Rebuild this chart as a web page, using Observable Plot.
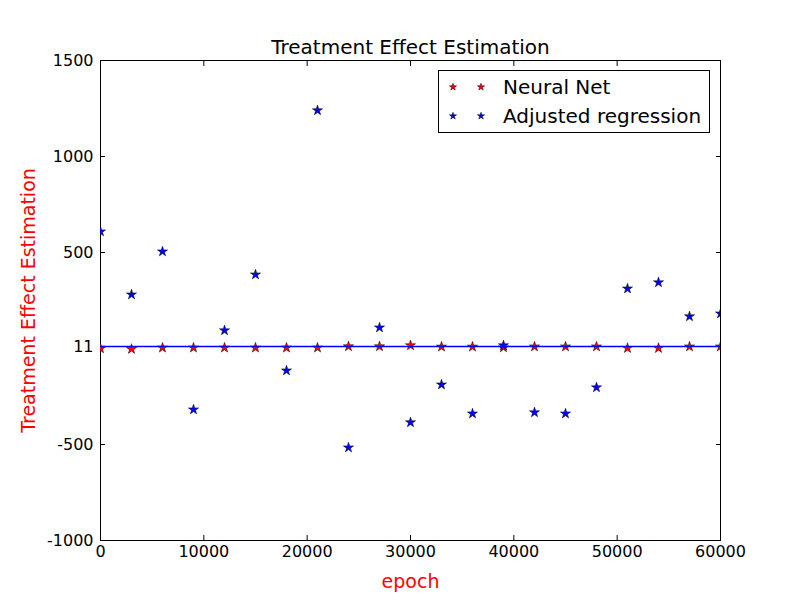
<!DOCTYPE html>
<html>
<head>
<meta charset="utf-8">
<script src="https://cdn.jsdelivr.net/npm/d3@7"></script>
<script src="https://cdn.jsdelivr.net/npm/@observablehq/plot@0.6"></script>
<style>
  html, body { margin: 0; padding: 0; background: white; }
  #wrap { position: relative; width: 800px; height: 600px; font-family: "DejaVu Sans", sans-serif; }
  #legend { position: absolute; left: 438px; top: 70px; width: 272px; height: 63px; border: 1px solid black; background: white; box-sizing: border-box; }
  .entry { position: absolute; left: 0; height: 24px; display: flex; align-items: center; font-size: 20px; color: black; white-space: nowrap; }
  .entry svg { display: block; }
</style>
</head>
<body>
<div id="wrap"></div>
<script>
const epochs = [0, 3000, 6000, 9000, 12000, 15000, 18000, 21000, 24000, 27000, 30000,
                33000, 36000, 39000, 42000, 45000, 48000, 51000, 54000, 57000, 60000];
const neuralNet = [0, -3, 4, 4, 4, 4, 4, 4, 11, 11, 16, 9, 9, 5, 10, 10, 10, 2, 2, 10, 10];
const adjustedRegression = [609, 281, 505, -318, 94, 385, -115, 1240, -516, 109, -385,
                            -188, -339, 16, -333, -339, -203, 312, 344, 167, 182];
const refValue = 11;
const yTicks = [-1000, -500, 11, 500, 1000, 1500];
const xTicks = [0, 10000, 20000, 30000, 40000, 50000, 60000];
const seriesNames = ["Neural Net", "Adjusted regression"];
const seriesColors = ["red", "blue"];

const nnData = epochs.map((e, i) => ({epoch: e, value: neuralNet[i]}));
const arData = epochs.map((e, i) => ({epoch: e, value: adjustedRegression[i]}));

const chart = Plot.plot({
  width: 800,
  height: 600,
  marginLeft: 100,
  marginRight: 80,
  marginTop: 60,
  marginBottom: 60,
  style: {fontFamily: "DejaVu Sans", fontSize: "16px", background: "white", color: "black"},
  x: {domain: [0, 60000]},
  y: {domain: [-1000, 1500]},
  marks: [
    Plot.frame({stroke: "black", strokeWidth: 1}),
    // inward tick marks on all four sides
    Plot.axisX({ticks: xTicks, anchor: "bottom", tickSize: -5, text: null, label: null}),
    Plot.axisX({ticks: xTicks, anchor: "top", tickSize: -5, text: null, label: null}),
    Plot.axisY({ticks: yTicks, anchor: "left", tickSize: -5, text: null, label: null}),
    Plot.axisY({ticks: yTicks, anchor: "right", tickSize: -5, text: null, label: null}),
    // tick labels
    Plot.axisX({ticks: xTicks, anchor: "bottom", tickSize: 0, tickPadding: 5, tickFormat: d => String(d), label: null, fontSize: 16}),
    Plot.axisY({ticks: yTicks, anchor: "left", tickSize: 0, tickPadding: 7, tickFormat: d => String(d), label: null, fontSize: 16}),
    Plot.dot(nnData, {x: "epoch", y: "value", symbol: "star", r: 3.2, fill: seriesColors[0], stroke: "black", strokeWidth: 0.5, clip: true}),
    Plot.dot(arData, {x: "epoch", y: "value", symbol: "star", r: 3.2, fill: seriesColors[1], stroke: "black", strokeWidth: 0.5, clip: true}),
    Plot.ruleY([refValue], {stroke: "blue", strokeWidth: 1.5}),
    Plot.text(["Treatment Effect Estimation"], {frameAnchor: "top", dy: -7, lineAnchor: "bottom", fontSize: 20, fill: "black"}),
    Plot.text(["epoch"], {frameAnchor: "bottom", dy: 47, lineAnchor: "bottom", fontSize: 19, fill: "red"}),
    Plot.text(["Treatment Effect Estimation"], {frameAnchor: "left", dx: -72, rotate: -90, textAnchor: "middle", fontSize: 19, fill: "red"})
  ]
});

const wrap = document.getElementById("wrap");
wrap.appendChild(chart);

// legend
const legend = document.createElement("div");
legend.id = "legend";
const starPath = d3.symbol(d3.symbolStar, 16)();
seriesNames.forEach((name, i) => {
  const entry = document.createElement("div");
  entry.className = "entry";
  entry.style.top = (i === 0 ? 4 : 33) + "px";
  const svgNS = "http://www.w3.org/2000/svg";
  const svg = document.createElementNS(svgNS, "svg");
  svg.setAttribute("width", "62");
  svg.setAttribute("height", "24");
  [14, 42].forEach(cx => {
    const p = document.createElementNS(svgNS, "path");
    p.setAttribute("d", starPath);
    p.setAttribute("transform", `translate(${cx},12)`);
    p.setAttribute("fill", seriesColors[i]);
    p.setAttribute("stroke", "black");
    p.setAttribute("stroke-width", "0.5");
    svg.appendChild(p);
  });
  entry.appendChild(svg);
  const span = document.createElement("span");
  span.textContent = name;
  span.style.marginLeft = "2px";
  entry.appendChild(span);
  legend.appendChild(entry);
});
wrap.appendChild(legend);
</script>
</body>
</html>
